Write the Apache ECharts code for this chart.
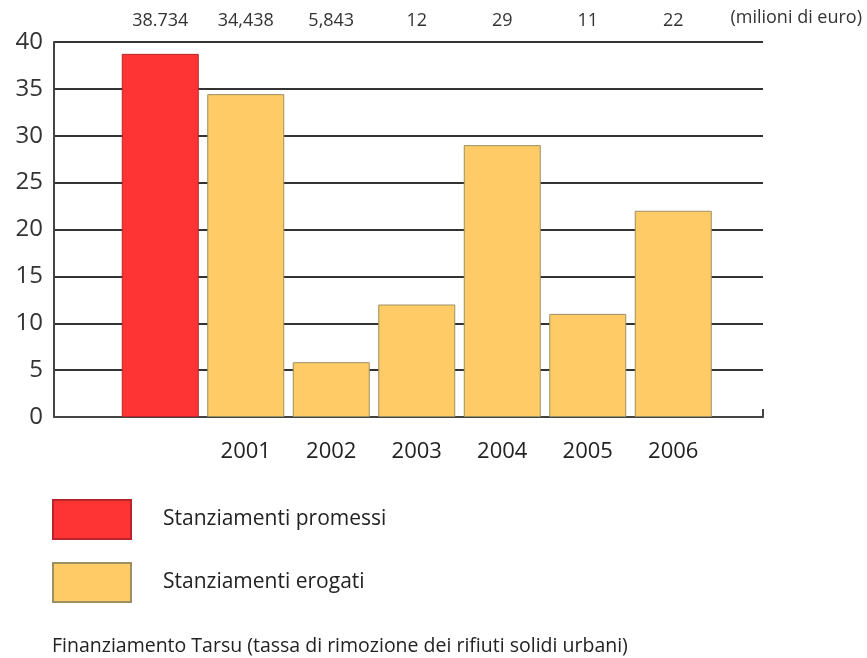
<!DOCTYPE html>
<html>
<head>
<meta charset="utf-8">
<script src="https://cdn.jsdelivr.net/npm/echarts@6/dist/echarts.min.js"></script>
<style>
  html, body { margin: 0; padding: 0; background: #fff; }
  #chart { width: 867px; height: 658px; }
</style>
</head>
<body>
<div id="chart"></div>
<script>
const categories = ['', '2001', '2002', '2003', '2004', '2005', '2006'];
const topLabels = ['38.734', '34,438', '5,843', '12', '29', '11', '22'];
const promessi = [38.734, '-', '-', '-', '-', '-', '-'];
const erogati = ['-', 34.438, 5.843, 12, 29, 11, 22];

const font = "'Open Sans', sans-serif";
const chart = echarts.init(document.getElementById('chart'));

const option = {
  animation: false,
  textStyle: { fontFamily: font },
  title: {
    text: 'Finanziamento Tarsu (tassa di rimozione dei rifiuti solidi urbani)',
    left: 47,
    top: 631,
    textStyle: { fontFamily: font, fontSize: 19.5, fontWeight: 'normal', color: '#222' },
  },
  graphic: [
    {
      type: 'text',
      right: 5,
      top: 9,
      style: { text: '(milioni di euro)', font: "18px 'Open Sans', sans-serif", fill: '#333' },
    },
  ],
  legend: {
    orient: 'vertical',
    left: 47,
    top: 494,
    itemWidth: 78,
    itemHeight: 39,
    itemGap: 22,
    icon: 'rect',
    textStyle: { fontSize: 21, color: '#222', padding: [0, 0, 0, 27] },
    data: ['Stanziamenti promessi', 'Stanziamenti erogati'],
  },
  grid: [
    { left: 117.5, width: 598.5, top: 42, bottom: 241 },
    { left: 54, right: 104, top: 42, bottom: 241 },
  ],
  xAxis: [
    {
      type: 'category',
      gridIndex: 0,
      data: categories,
      axisLine: { show: false },
      axisTick: { show: false },
      axisLabel: { fontSize: 22, color: '#222', margin: 24 },
    },
    {
      type: 'category',
      gridIndex: 0,
      position: 'top',
      data: topLabels,
      axisLine: { show: false },
      axisTick: { show: false },
      axisLabel: { fontSize: 18, color: '#333', margin: 12 },
    },
    {
      type: 'value',
      gridIndex: 1,
      min: 0,
      max: 1,
      interval: 1,
      axisLine: { show: true, lineStyle: { color: '#444', width: 2 } },
      axisTick: { show: true, inside: true, length: 8, lineStyle: { color: '#444', width: 2 } },
      axisLabel: { show: false },
      splitLine: { show: false },
    },
  ],
  yAxis: [
    {
      type: 'value',
      gridIndex: 0,
      min: 0,
      max: 40,
      interval: 5,
      show: false,
    },
    {
      type: 'value',
      gridIndex: 1,
      min: 0,
      max: 40,
      interval: 5,
      axisLine: { show: true, lineStyle: { color: '#444', width: 2 } },
      axisTick: { show: false },
      axisLabel: { fontSize: 24, color: '#333', margin: 11 },
      splitLine: { show: true, lineStyle: { color: '#333', width: 2 } },
    },
  ],
  series: [
    {
      name: 'Stanziamenti promessi',
      type: 'bar',
      xAxisIndex: 0,
      yAxisIndex: 0,
      data: promessi,
      barWidth: 77,
      barGap: '-100%',
      z: 5,
      itemStyle: { color: '#FE3334', borderColor: '#B8262A', borderWidth: 1 },
    },
    {
      name: 'Stanziamenti erogati',
      type: 'bar',
      xAxisIndex: 0,
      yAxisIndex: 0,
      data: erogati,
      barWidth: 77,
      barGap: '-100%',
      z: 5,
      itemStyle: { color: '#FECB66', borderColor: '#9A9060', borderWidth: 1 },
    },
  ],
};

chart.setOption(option);
</script>
</body>
</html>
